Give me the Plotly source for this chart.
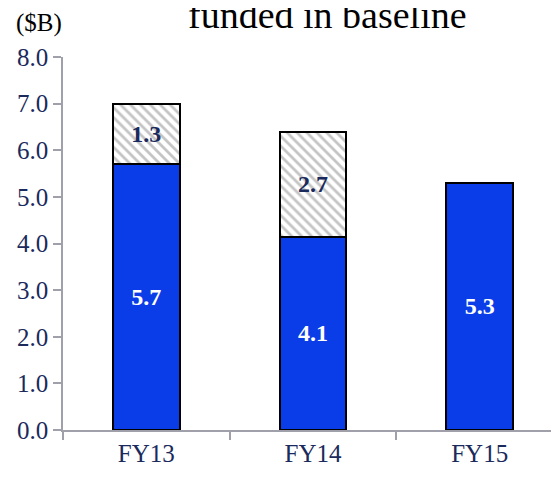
import plotly.graph_objects as go

categories = ["FY13", "FY14", "FY15"]
funded = [5.7, 4.15, 5.3]
funded_labels = ["5.7", "4.1", "5.3"]
unfunded = [1.3, 2.25, 0]
unfunded_labels = ["1.3", "2.7", ""]
y_ticks = [0, 1, 2, 3, 4, 5, 6, 7, 8]

NAVY = "#1B2A5C"
FONT = "Liberation Serif"

# plot area (figure coords; page adds 8px offset)
L, T, W = 55, 49, 500

fig = go.Figure()
fig.add_trace(go.Bar(
    x=categories, y=funded, text=funded_labels,
    textposition="inside", insidetextanchor="middle",
    textfont=dict(family=FONT, size=24, color="white"),
    marker=dict(color="#0A3DE8", line=dict(color="black", width=2)),
    width=0.40, texttemplate="<b>%{text}</b>",
))
fig.add_trace(go.Bar(
    x=categories, y=unfunded, text=unfunded_labels,
    textposition="inside", insidetextanchor="middle",
    textfont=dict(family=FONT, size=24, color=NAVY),
    marker=dict(color="white", line=dict(color="black", width=2),
                pattern=dict(shape="\\", fgcolor="#8a8a8a", bgcolor="white", size=7, solidity=0.4)),
    width=0.40, texttemplate="<b>%{text}</b>",
))

fig.update_layout(
    barmode="stack",
    width=559, height=479,
    margin=dict(l=L, r=559 - L - W, t=T, b=479 - 422),
    paper_bgcolor="white", plot_bgcolor="white",
    showlegend=False,
    font=dict(family=FONT, color=NAVY, size=24),
    xaxis=dict(range=[-0.5, 2.5], showline=True, linecolor="#A0A0AA", linewidth=1.5,
               ticks="outside", ticklen=8, tickcolor="#A0A0AA", tickwidth=1.5,
               tickson="boundaries", showgrid=False,
               tickfont=dict(family=FONT, size=25, color=NAVY)),
    yaxis=dict(range=[0, 8], tickvals=y_ticks, tickformat=".1f", showline=True,
               linecolor="#A0A0AA", linewidth=1.5, ticks="outside", ticklen=8,
               tickcolor="#A0A0AA", tickwidth=1.5, showgrid=False, zeroline=False,
               tickfont=dict(family=FONT, size=25, color=NAVY)),
    annotations=[
        dict(text="funded in baseline", xref="paper", yref="paper", x=(319 - L) / W, y=1,
             xanchor="center", yanchor="bottom", yshift=19, showarrow=False,
             font=dict(family=FONT, size=38, color="black")),
        dict(text="($B)", xref="paper", yref="paper", x=(31 - L) / W, y=1,
             xanchor="center", yanchor="middle", yshift=34, showarrow=False,
             font=dict(family=FONT, size=25, color="black")),
    ],
)

fig.write_html("out.html")
